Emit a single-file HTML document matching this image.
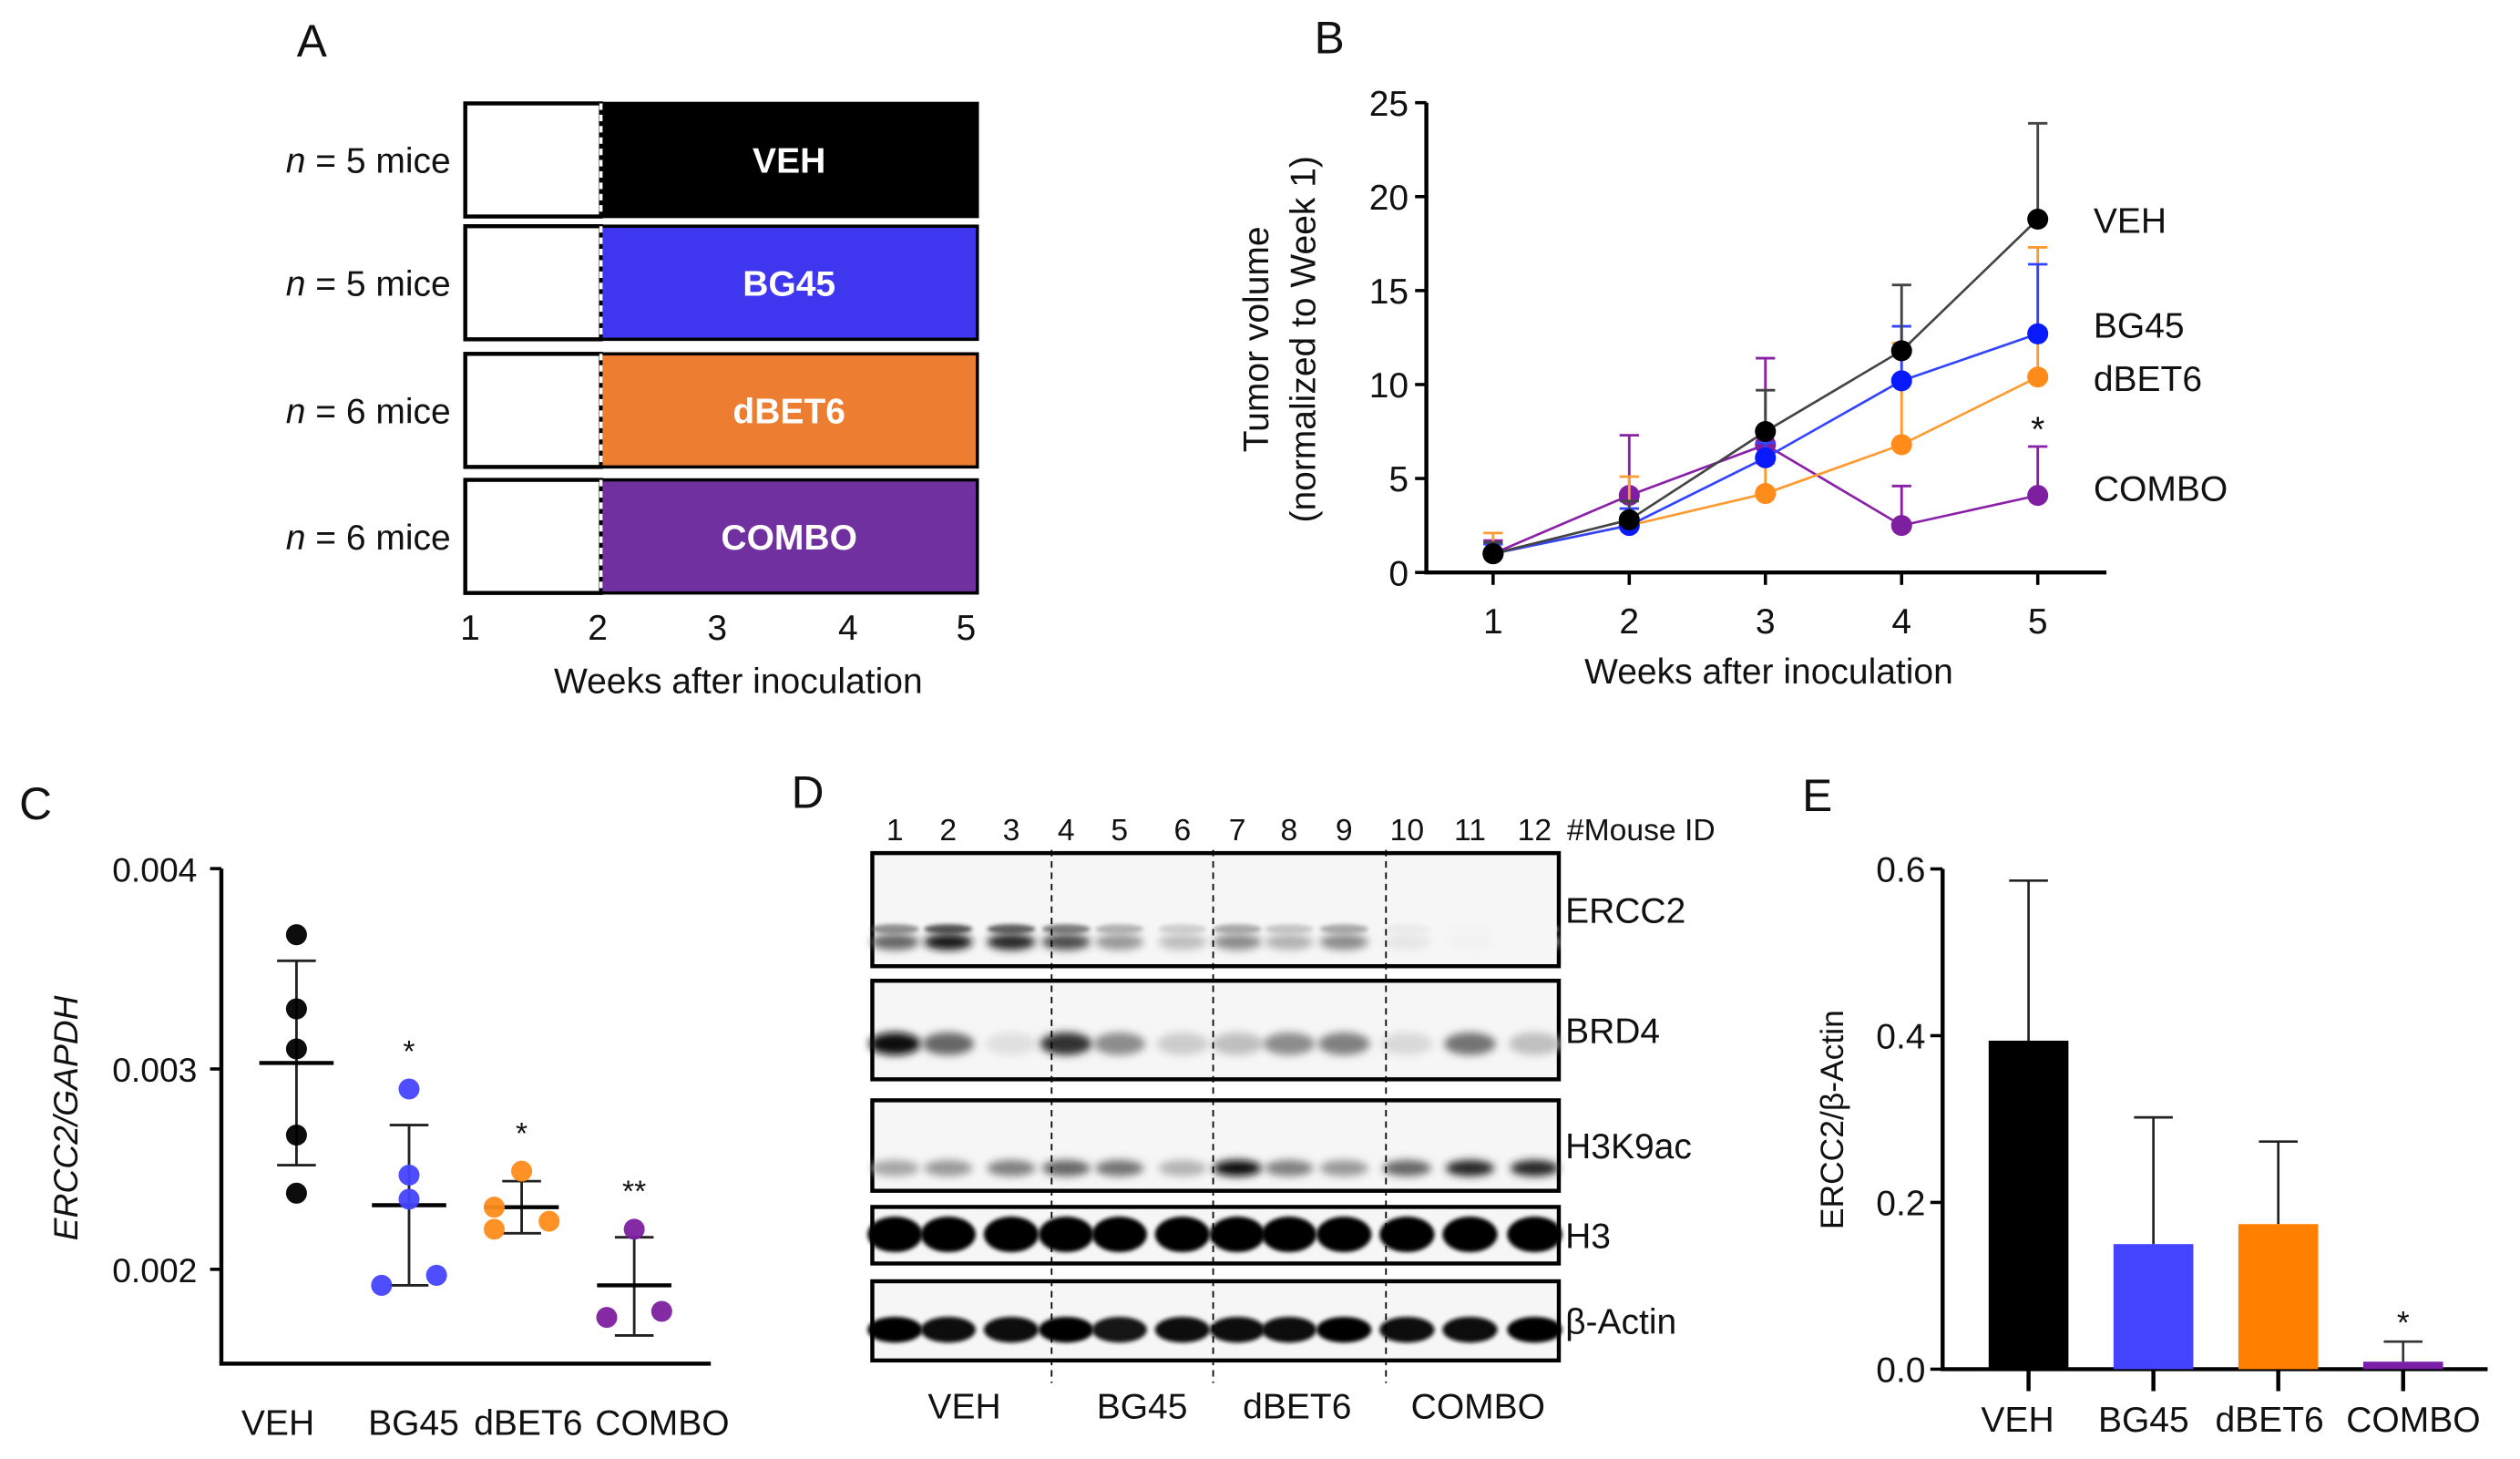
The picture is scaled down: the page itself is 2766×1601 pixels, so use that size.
<!DOCTYPE html>
<html><head><meta charset="utf-8"><style>
html,body{margin:0;padding:0;background:#fff}
svg{display:block}
text{font-family:"Liberation Sans",Arial,sans-serif;fill:#111}
</style></head><body>
<svg id="fig" width="2766" height="1601" viewBox="0 0 1560 903" xmlns="http://www.w3.org/2000/svg">
<defs>
<filter id="blur" x="-50%" y="-100%" width="200%" height="300%"><feGaussianBlur stdDeviation="2.5"/></filter>
<filter id="blur2" x="-50%" y="-100%" width="200%" height="300%"><feGaussianBlur stdDeviation="1.2"/></filter>
</defs>
<g>
<text x="193" y="35" font-size="28" text-anchor="middle">A</text>
<g id="aRows"></g>
<g id="aTicks"></g>
<text x="457" y="429" font-size="22" text-anchor="middle">Weeks after inoculation</text>
</g>
<g>
<text x="823" y="33" font-size="28" text-anchor="middle">B</text>
<text transform="translate(785,210) rotate(-90)" font-size="22" text-anchor="middle">Tumor volume</text>
<text transform="translate(814,210) rotate(-90)" font-size="22" text-anchor="middle">(normalized to Week 1)</text>
<text x="1095" y="423" font-size="22" text-anchor="middle">Weeks after inoculation</text>
<g id="bChart"></g>
</g>
<g>
<text x="22" y="507" font-size="28" text-anchor="middle">C</text>
<text transform="translate(48,692) rotate(-90)" font-size="21" font-style="italic" text-anchor="middle">ERCC2/GAPDH</text>
<g id="cChart"></g>
</g>
<g>
<text x="500" y="500" font-size="28" text-anchor="middle">D</text>
<g id="dBlot"></g>
</g>
<g>
<text x="1125" y="502" font-size="28" text-anchor="middle">E</text>
<text transform="translate(1141,693) rotate(-90)" font-size="20" text-anchor="middle">ERCC2/β-Actin</text>
<g id="eChart"></g>
</g>
</svg>
<script>
const NS="http://www.w3.org/2000/svg";
function mk(parent,tag,attrs,txt){const e=document.createElementNS(NS,tag);for(const k in attrs)e.setAttribute(k,attrs[k]);if(txt!==undefined)e.textContent=txt;parent.appendChild(e);return e;}

// ---------- Panel A data ----------
const aGroups=["VEH","BG45","dBET6","COMBO"];
const aN=[5,5,6,6];
const aColors=["#000000","#3f36f0","#ed7d31","#7030a0"];
const aWeeks=[1,2,3,4,5];
const aStart=2;
(function(){
  const g=document.getElementById("aRows");
  const rowsY=[64,140,219,297];
  const xs=372, x0=288, x1=605;
  aGroups.forEach((name,i)=>{
    const y=rowsY[i],h=70;
    const r0=mk(g,"rect",{x:x0,y:y,width:xs-x0,height:h,fill:"#fff",stroke:"#000","stroke-width":2.5});
    
    
    const r=mk(g,"rect",{x:xs,y:y,width:x1-xs,height:h,fill:aColors[i],stroke:"#000","stroke-width":2});
    
    
    const dl=mk(g,"line",{x1:xs,y1:y,x2:xs,y2:y+h,stroke:"#fff","stroke-width":2,"stroke-dasharray":"4,3"});
    
    
    const t=mk(g,"text",{x:(xs+x1)/2,y:y+h/2+8,"font-size":22,"font-weight":"bold","text-anchor":"middle",style:"fill:#fff"},name);
    
    
    const nl=mk(g,"text",{x:279,y:y+h/2+8,"font-size":22,"text-anchor":"end"});
    
    
    mk(nl,"tspan",{"font-style":"italic"},"n");
    mk(nl,"tspan",{}," = "+aN[i]+" mice");
  });
  const tg=document.getElementById("aTicks");
  const tx=[291,370,444,525,598];
  aWeeks.forEach((w,i)=>{
    const t=mk(tg,"text",{x:tx[i],y:396,"font-size":22,"text-anchor":"middle"},String(w));
    
    
  });
})();

// ---------- Panel B data ----------
const bWeeks=[1,2,3,4,5];
const bYTicks=[0,5,10,15,20,25];
const bSeriesNames=["COMBO","dBET6","BG45","VEH"];
const bVEH=[1,2.8,7.5,11.8,18.8];
const bVEHerr=[1.6,3.8,9.7,15.3,23.9];
const bBG45=[1,2.5,6.1,10.2,12.7];
const bBG45err=[1.5,3.4,6.9,13.1,16.4];
const bDBET6=[1,2.5,4.2,6.8,10.4];
const bDBET6err=[2.1,5.1,5.8,12.2,17.3];
const bCOMBO=[1,4.1,6.8,2.5,4.1];
const bCOMBOerr=[1.7,7.3,11.4,4.6,6.7];
const bLabelY=[302,234,201,136];
(function(){
  const g=document.getElementById("bChart");
  const X=w=>924.3+(w-1)*84.3, Y=v=>354.3-v*11.63;
  const ax=mk(g,"path",{d:`M883 ${Y(25)} V354.3 H1304`,fill:"none",stroke:"#000","stroke-width":2.5});
  
  
  bYTicks.forEach(v=>{
    const l=mk(g,"line",{x1:876,y1:Y(v),x2:883,y2:Y(v),stroke:"#000","stroke-width":2});
    
    
    const t=mk(g,"text",{x:872,y:Y(v)+8,"font-size":22,"text-anchor":"end"},String(v));
    
    
  });
  bWeeks.forEach(w=>{
    const l=mk(g,"line",{x1:X(w),y1:354.3,x2:X(w),y2:362,stroke:"#000","stroke-width":2});
    
    
    const t=mk(g,"text",{x:X(w),y:392,"font-size":22,"text-anchor":"middle"},String(w));
    
    
  });
  const series=[[bCOMBO,bCOMBOerr,"#8a1fa8","#7d1fa0"],[bDBET6,bDBET6err,"#ff9a30","#ff8c1a"],[bBG45,bBG45err,"#3344ff","#0a1aff"],[bVEH,bVEHerr,"#444","#000"]];
  series.forEach((s,si)=>{
    const [vals,err,lc,mc]=s;
    const name=bSeriesNames[si];
    vals.forEach((v,i)=>{
      const e=mk(g,"path",{d:`M${X(bWeeks[i])} ${Y(v)} V${Y(err[i])} M${X(bWeeks[i])-6} ${Y(err[i])} H${X(bWeeks[i])+6}`,stroke:lc,"stroke-width":1.6,fill:"none"});
      
      
    });
    const pl=mk(g,"polyline",{points:vals.map((v,i)=>X(bWeeks[i])+","+Y(v)).join(" "),fill:"none",stroke:lc,"stroke-width":1.5});
    
    
    vals.forEach((v,i)=>{
      const c=mk(g,"circle",{cx:X(bWeeks[i]),cy:Y(v),r:6.5,fill:mc});
      
      
    });
    const t=mk(g,"text",{x:1296,y:bLabelY[si]+8,"font-size":22},name);
    
    
  });
  const st=mk(g,"text",{x:X(5),y:Y(bCOMBOerr[4])-3,"font-size":22,"text-anchor":"middle"},"*");
  
  
})();

// ---------- Panel C data ----------
const cCats=["VEH","BG45","dBET6","COMBO"];
const cYTicks=[0.002,0.003,0.004];
const cVEH=[0.00367,0.0033,0.0031,0.00267,0.00238];
const cBG45=[0.0029,0.00247,0.00235,0.00192,0.00197];
const cDBET6=[0.00249,0.00231,0.0022,0.00224];
const cCOMBO=[0.0022,0.00176,0.00179];
const cMeans=[0.00303,0.00232,0.00231,0.00192];
const cSDhi=[0.00354,0.00272,0.00244,0.00216];
const cSDlo=[0.00252,0.00192,0.00218,0.00167];
const cStars=["","*","*","**"];
const cJitter=[[0,0,0,0,0],[0,0,0,-17,17],[0,-17,-17,17],[0,-17,17]];
(function(){
  const g=document.getElementById("cChart");
  const Y=v=>785.6-(v-0.002)*124000;
  const X=i=>183.5+i*69.7;
  const cols=["#000","#4444ff","#ff8c1a","#7d1fa0"];
  const ax=mk(g,"path",{d:`M137 ${Y(0.004)} V844 H440`,fill:"none",stroke:"#000","stroke-width":2.5});
  
  
  cYTicks.forEach(v=>{
    const l=mk(g,"line",{x1:130,y1:Y(v),x2:137,y2:Y(v),stroke:"#000","stroke-width":2});
    
    
    const t=mk(g,"text",{x:122,y:Y(v)+8,"font-size":21,"text-anchor":"end"},v.toFixed(3));
    
    
  });
  const data=[cVEH,cBG45,cDBET6,cCOMBO];
  data.forEach((pts,i)=>{
    const x=X(i);
    const e=mk(g,"path",{d:`M${x} ${Y(cSDlo[i])} V${Y(cSDhi[i])} M${x-12} ${Y(cSDhi[i])} H${x+12} M${x-12} ${Y(cSDlo[i])} H${x+12}`,stroke:"#222","stroke-width":1.6,fill:"none"});
    
    
    const m=mk(g,"line",{x1:x-23,y1:Y(cMeans[i]),x2:x+23,y2:Y(cMeans[i]),stroke:"#000","stroke-width":2.5});
    
    
    pts.forEach((v,j)=>{
      const c=mk(g,"circle",{cx:x+cJitter[i][j],cy:Y(v),r:6.5,fill:cols[i],opacity:0.95});
      
      
    });
    if(cStars[i]){
      const top=Math.max(cSDhi[i],...pts);
      const s=mk(g,"text",{x:x,y:Y(top)-17,"font-size":19,"text-anchor":"middle"},cStars[i]);
      
      
    }
    const lx=[172,256,327,410][i];
    const t=mk(g,"text",{x:lx,y:888,"font-size":22,"text-anchor":"middle"},cCats[i]);
    
    
  });
})();

// ---------- Panel D (western blot) ----------
const dLaneIDs=["1","2","3","4","5","6","7","8","9","10","11","12"];
const dProteins=["ERCC2","BRD4","H3K9ac","H3","β-Actin"];
const dGroups=["VEH","BG45","dBET6","COMBO"];
const dERCC2=[0.6,0.9,0.85,0.7,0.4,0.25,0.45,0.3,0.45,0.1,0.05,0.03];
const dBRD4=[0.95,0.6,0.12,0.8,0.45,0.2,0.25,0.45,0.5,0.15,0.55,0.25];
const dH3K9ac=[0.35,0.4,0.5,0.6,0.55,0.3,0.95,0.5,0.4,0.6,0.85,0.85];
const dH3=[1,1,1,1,1,1,1,1,1,1,1,1];
const dActin=[1,0.95,0.95,1,0.9,0.95,0.95,0.95,1,0.95,0.95,1];
(function(){
  const g=document.getElementById("dBlot");
  const lx=[554,587,626,660,693,732,766,798,832,871,910,950];
  dLaneIDs.forEach((id,i)=>{
    const t=mk(g,"text",{x:lx[i],y:520,"font-size":19,"text-anchor":"middle"},id);
    
    
  });
  const mi=mk(g,"text",{x:970,y:520,"font-size":19},"#Mouse ID");
  
  
  // [top, bottom, band y, band half-height, band half-width]
  const boxes=[[528,598,583,5,15],[607,668,646,7,16],[681,737,723,5,15],[747,782,764,11,17],[793,842,823,8,17]];
  const vals=[dERCC2,dBRD4,dH3K9ac,dH3,dActin];
  boxes.forEach((b,pi)=>{
    const [y0,y1,by,bh,bw]=b;
    const r=mk(g,"rect",{x:540,y:y0,width:425,height:y1-y0,fill:"#f6f6f6",stroke:"#000","stroke-width":2.5});
    
    
    vals[pi].forEach((v,i)=>{
      const gray=Math.round(255*(1-v));
      const e=mk(g,"ellipse",{cx:lx[i],cy:by,rx:bw,ry:bh,fill:`rgb(${gray},${gray},${gray})`,filter:pi>=3?"url(#blur2)":"url(#blur)"});
      
      
      if(pi===0){
        const e2=mk(g,"ellipse",{cx:lx[i],cy:by-8,rx:bw,ry:3,fill:`rgb(${gray},${gray},${gray})`,opacity:0.7,filter:"url(#blur2)"});
        
        
      }
    });
    const t=mk(g,"text",{x:969,y:(y0+y1)/2+8,"font-size":22},dProteins[pi]);
    
    
  });
  [651,751,858].forEach(x=>{
    const l=mk(g,"line",{x1:x,y1:526,x2:x,y2:856,stroke:"#000","stroke-width":1,"stroke-dasharray":"4,3"});
    
    
  });
  const gx=[597,707,803,915];
  dGroups.forEach((n,i)=>{
    const t=mk(g,"text",{x:gx[i],y:878,"font-size":22,"text-anchor":"middle"},n);
    
    
  });
})();

// ---------- Panel E data ----------
const eCats=["VEH","BG45","dBET6","COMBO"];
const eVals=[0.394,0.15,0.174,0.009];
const eErr=[0.586,0.302,0.273,0.033];
const eYTicks=[0,0.2,0.4,0.6];
const eStars=["","","","*"];
(function(){
  const g=document.getElementById("eChart");
  const Y=v=>847.4-v*516;
  const X=i=>1255.8+i*77.3;
  const cols=["#000","#4444ff","#ff8000","#7a1fa8"];
  const ax=mk(g,"path",{d:`M1202.6 ${Y(0.6)} V847.4 H1540`,fill:"none",stroke:"#000","stroke-width":2.5});
  
  
  eYTicks.forEach(v=>{
    const l=mk(g,"line",{x1:1195,y1:Y(v),x2:1202.6,y2:Y(v),stroke:"#000","stroke-width":2});
    
    
    const t=mk(g,"text",{x:1192,y:Y(v)+8,"font-size":22,"text-anchor":"end"},v.toFixed(1));
    
    
  });
  eVals.forEach((v,i)=>{
    const x=X(i);
    const e=mk(g,"path",{d:`M${x} ${Y(v)} V${Y(eErr[i])} M${x-12} ${Y(eErr[i])} H${x+12}`,stroke:i===3?"#333":"#222","stroke-width":1.5,fill:"none"});
    
    
    const b=mk(g,"rect",{x:x-24.7,y:Y(v),width:49.4,height:847.4-Y(v),fill:cols[i]});
    
    
    const tk=mk(g,"line",{x1:x,y1:847.4,x2:x,y2:861,stroke:"#000","stroke-width":2.5});
    
    
    if(eStars[i]){
      const s=mk(g,"text",{x:x,y:Y(eErr[i])-5,"font-size":20,"text-anchor":"middle"},eStars[i]);
      
      
    }
    const t=mk(g,"text",{x:[1249,1327,1405,1494][i],y:886,"font-size":22,"text-anchor":"middle"},eCats[i]);
    
    
  });
})();
</script>
</body></html>
